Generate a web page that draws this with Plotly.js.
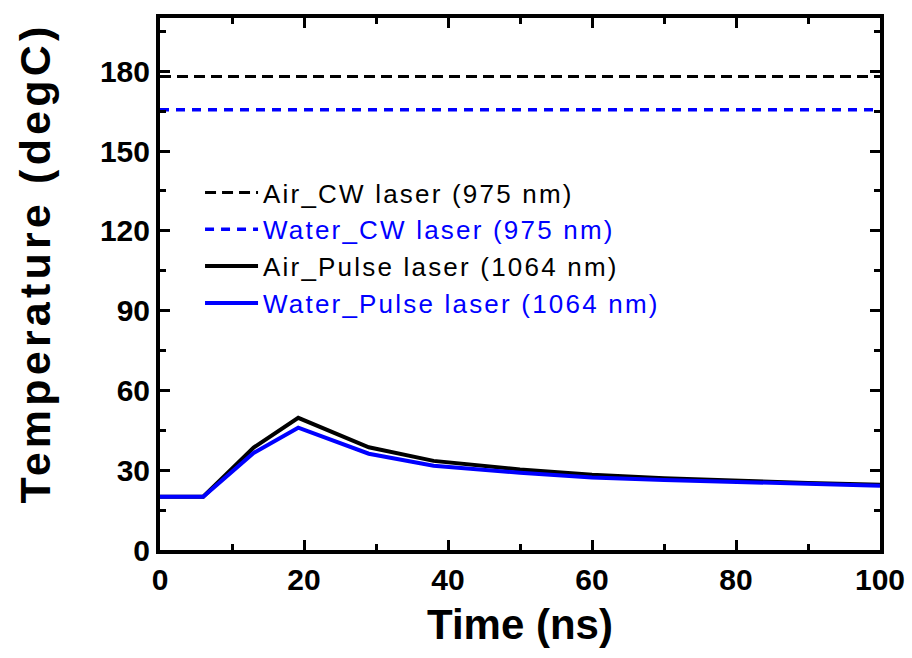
<!DOCTYPE html>
<html>
<head>
<meta charset="utf-8">
<script src="https://cdn.plot.ly/plotly-3.0.1.min.js"></script>
<style>body{margin:0;padding:0;background:#fff;}#chart{width:912px;height:658px;}</style>
</head>
<body>
<div id="chart"></div>
<script>
// Data
const seriesNames = [
  'Air_CW laser (975 nm)',
  'Water_CW laser (975 nm)',
  'Air_Pulse laser (1064 nm)',
  'Water_Pulse laser (1064 nm)'
];
const cwTime = [0, 100];
const airCW = [178, 178];
const waterCW = [165.5, 165.5];
const pulseTime = [0, 6, 13, 19.2, 29, 38, 50, 60, 70, 80, 90, 100];
const airPulse = [20, 20, 38.5, 49.7, 38.6, 33.5, 30.3, 28.3, 27.0, 26.0, 25.2, 24.5];
const waterPulse = [20, 20, 36.5, 46.0, 36.2, 31.7, 29.0, 27.3, 26.3, 25.5, 24.9, 24.2];
const xTickVals = [0, 20, 40, 60, 80, 100];
const yTickVals = [0, 30, 60, 90, 120, 150, 180];
const xTitle = 'Time (ns)';
const yTitle = 'Temperature (degC)';

const BLUE = '#0000FF';
const FONT = 'Liberation Sans, Arial, sans-serif';
const colorName = (n, c) => '<span style="color:' + c + ';letter-spacing:2.2px">' + n + '</span>';

const traces = [
  {x: cwTime, y: airCW, name: colorName(seriesNames[0], '#000000'), mode: 'lines',
   line: {color: '#000000', width: 3, dash: '11px,6px'}},
  {x: cwTime, y: waterCW, name: colorName(seriesNames[1], BLUE), mode: 'lines',
   line: {color: BLUE, width: 3.5, dash: '9px,7px'}},
  {x: pulseTime, y: airPulse, name: colorName(seriesNames[2], '#000000'), mode: 'lines',
   line: {color: '#000000', width: 4}},
  {x: pulseTime, y: waterPulse, name: colorName(seriesNames[3], BLUE), mode: 'lines',
   line: {color: BLUE, width: 4}}
];

const axisCommon = {
  showline: true, linecolor: '#000', linewidth: 4, mirror: 'allticks',
  ticks: 'inside', ticklen: 10, tickwidth: 3, tickcolor: '#000',
  showgrid: false, zeroline: false,
  tickfont: {family: FONT, size: 30, color: '#000', weight: 'bold'}
};

const layout = {
  width: 912, height: 658,
  margin: {l: 160, r: 32, t: 18, b: 108},
  paper_bgcolor: '#fff', plot_bgcolor: '#fff',
  showlegend: true,
  legend: {
    x: 0.0556, y: 0.716, xanchor: 'left', yanchor: 'top',
    bgcolor: 'rgba(0,0,0,0)', borderwidth: 0,
    font: {family: FONT, size: 26, color: '#000'},
    tracegroupgap: 0, itemwidth: 53
  },
  xaxis: Object.assign({}, axisCommon, {
    range: [0, 100], tickvals: xTickVals, ticktext: xTickVals.map(String),
    minor: {ticks: 'inside', ticklen: 6, tickwidth: 3, tickcolor: '#000', dtick: 10, tick0: 0},
    title: {text: xTitle, standoff: 16, font: {family: FONT, size: 42, color: '#000', weight: 'bold'}}
  }),
  yaxis: Object.assign({}, axisCommon, {
    range: [0, 200], tickvals: yTickVals, ticktext: yTickVals.map(String),
    minor: {ticks: 'inside', ticklen: 6, tickwidth: 3, tickcolor: '#000', dtick: 15, tick0: 0}
  }),
  annotations: [{
    text: '<span style="letter-spacing:4.2px">' + yTitle + '</span>',
    xref: 'paper', yref: 'paper', x: 0, y: 0.5385,
    xanchor: 'center', yanchor: 'middle', xshift: -125,
    textangle: -90, showarrow: false,
    font: {family: FONT, size: 43, color: '#000', weight: 'bold'}
  }]
};

Plotly.newPlot('chart', traces, layout, {displayModeBar: false, staticPlot: true});
</script>
</body>
</html>
